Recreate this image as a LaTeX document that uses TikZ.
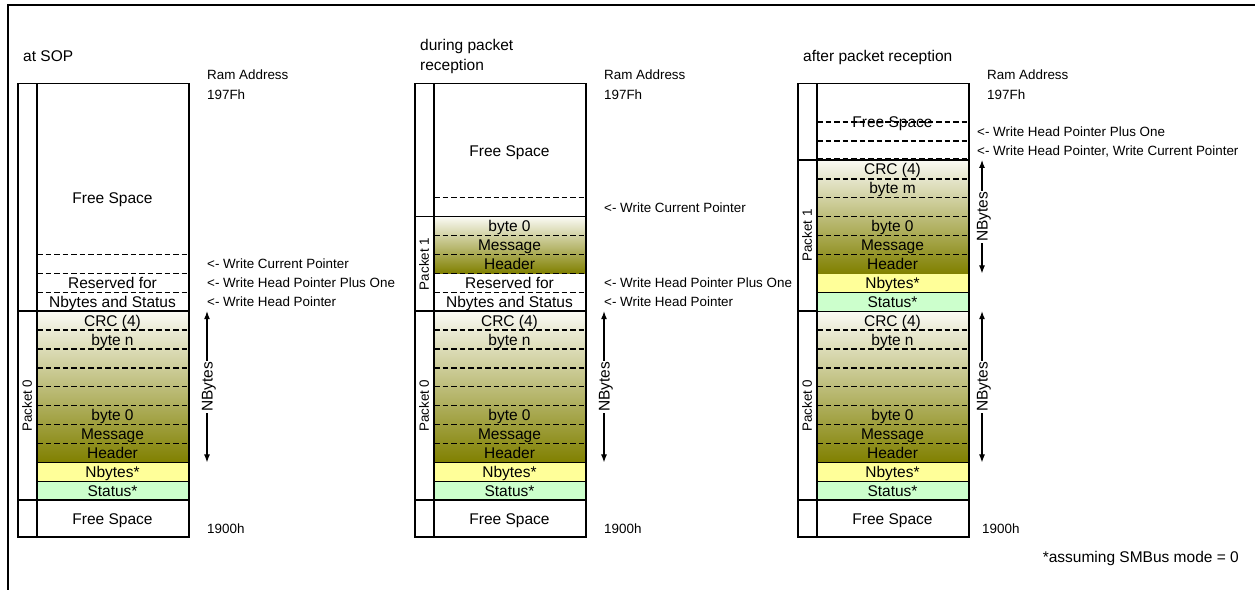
\documentclass[tikz,border=0pt]{standalone}
\usepackage{fontspec}
\setmainfont{Liberation Sans}
\usetikzlibrary{arrows.meta}
\definecolor{olivec}{RGB}{128,128,0}
\definecolor{gtop}{RGB}{250,250,244}
\definecolor{nbyel}{RGB}{255,255,153}
\definecolor{stgreen}{RGB}{204,255,204}
\newcommand\bfs{\fontsize{15.5}{20}\selectfont}
\newcommand\sfs{\fontsize{13.4}{16}\selectfont}
\tikzset{
 cell/.style={inner sep=0pt, minimum width=151pt, minimum height=18.9pt, text height=11pt, text depth=0pt, font=\bfs},
 colorcell/.style={cell, draw, line width=0.9pt},
 dline/.style={line width=1.4pt, dash pattern=on 5.5pt off 3pt},
 sline/.style={line width=1.6pt},
 ptr/.style={anchor=west, inner sep=0pt, font=\sfs, text height=9.6pt, text depth=0pt},
 plabel/.style={rotate=90, inner sep=0pt, font=\sfs, text height=9.6pt, text depth=0pt},
 nbarrow/.style={{Latex[length=8pt,width=6pt]}-{Latex[length=8pt,width=6pt]}, line width=1.1pt},
 nblabel/.style={rotate=90, fill=white, inner sep=1pt, font=\bfs, text height=11pt, text depth=0pt},
 ttl/.style={anchor=west, inner sep=0pt, font=\bfs, align=left},
 colbox/.style={draw, sline, inner sep=0pt, minimum width=171pt, minimum height=453.6pt, anchor=south west},
}
% #1 = x0, #2 = prefix, #3 = arrow x offset
\newcommand\packetzero[3]{%
 \shade[top color=gtop, bottom color=olivec] (#1+20,4) rectangle (#1+171,12);
 \node[colorcell, fill=stgreen] (#2st) at (#1+95.5,2.5) {Status*};
 \node[colorcell, fill=nbyel] (#2nb) at (#1+95.5,3.5) {Nbytes*};
 \node[cell] (#2hd) at (#1+95.5,4.5) {Header};
 \node[cell] (#2ms) at (#1+95.5,5.5) {Message};
 \node[cell] (#2bz) at (#1+95.5,6.5) {byte 0};
 \node[cell] (#2bn) at (#1+95.5,10.5) {byte n};
 \node[cell] (#2crc) at (#1+95.5,11.5) {CRC (4)};
 \foreach \r in {5,...,11} \draw[dline] (#1+20,\r) -- (#1+171,\r);
 \node[cell, minimum height=37.8pt] (#2fsb) at (#1+95.5,1) {Free Space};
 \draw[sline] (#1,2) -- (#1+171,2);
 \draw[sline] (#1,12) -- (#1+171,12);
 \node[plabel] (#2pz) at (#1+10,7) {Packet 0};
 \coordinate (#2at) at (#1+#3,12);
 \coordinate (#2ab) at (#1+#3,4);
 \draw[nbarrow] (#2ab) -- node[nblabel] (#2nbl) {NBytes} (#2at);
 \node[ptr] (#2lo) at (#1+#3,0.476) {1900h};
}
\begin{document}
\begin{tikzpicture}[x=1pt, y=18.9pt]
\useasboundingbox (0,-2.6984) rectangle (1255,28.4656);
\draw[line width=2.4pt] (1256,28.2011) -- (8,28.2011) -- (8,-2.8);

% ---------- column 1: at SOP ----------
\node[ttl, text height=11pt, text depth=0pt] (t1) at (23,25.503) {at SOP};
\node[ptr] (ra1) at (207,24.497) {Ram Address};
\node[ptr] (hi1) at (207,23.439) {197Fh};
\packetzero{17}{a}{190}
\node[cell, minimum height=226.8pt] (afs) at (112.5,18) {Free Space};
\node[cell] (anbs) at (112.5,12.5) {Nbytes and Status};
\node[cell] (ares) at (112.5,13.5) {Reserved for};
\foreach \r in {13,14,15} \draw[dline] (37,\r) -- (188,\r);
\node[colbox] (abox) at (17,0) {};
\draw[sline] (37,0) -- (37,24);
\node[ptr] (ap1) at (207,14.5) {<- Write Current Pointer};
\node[ptr] (ap2) at (207,13.5) {<- Write Head Pointer Plus One};
\node[ptr] (ap3) at (207,12.5) {<- Write Head Pointer};

% ---------- column 2: during packet reception ----------
\node[ttl] (t2) at (420,25.45) {during packet\\reception};
\node[ptr] (ra2) at (604,24.497) {Ram Address};
\node[ptr] (hi2) at (604,23.439) {197Fh};
\packetzero{414}{b}{190}
\node[cell] (bnbs) at (509.5,12.5) {Nbytes and Status};
\node[cell] (bres) at (509.5,13.5) {Reserved for};
\shade[top color=gtop, bottom color=olivec] (434,14) rectangle (585,17);
\node[cell] (bhd) at (509.5,14.5) {Header};
\node[cell] (bms) at (509.5,15.5) {Message};
\node[cell] (bbz) at (509.5,16.5) {byte 0};
\node[cell, minimum height=132.3pt] (bfs) at (509.5,20.5) {Free Space};
\foreach \r in {13,14,15,16,18} \draw[dline] (434,\r) -- (585,\r);
\draw[sline] (414,17) -- (585,17);
\node[colbox] (bbox) at (414,0) {};
\draw[sline] (434,0) -- (434,24);
\node[plabel] (bpo) at (424,14.5) {Packet 1};
\node[ptr] (bp1) at (604,17.5) {<- Write Current Pointer};
\node[ptr] (bp2) at (604,13.5) {<- Write Head Pointer Plus One};
\node[ptr] (bp3) at (604,12.5) {<- Write Head Pointer};

% ---------- column 3: after packet reception ----------
\node[ttl, text height=11pt, text depth=0pt] (t3) at (803,25.503) {after packet reception};
\node[ptr] (ra3) at (987,24.497) {Ram Address};
\node[ptr] (hi3) at (987,23.439) {197Fh};
\packetzero{797}{c}{185}
\node[colorcell, fill=stgreen] (cst1) at (892.5,12.5) {Status*};
\node[colorcell, fill=nbyel] (cnb1) at (892.5,13.5) {Nbytes*};
\shade[top color=gtop, bottom color=olivec] (817,14) rectangle (968,20);
\node[cell] (chd1) at (892.5,14.5) {Header};
\node[cell] (cms1) at (892.5,15.5) {Message};
\node[cell] (cbz1) at (892.5,16.5) {byte 0};
\node[cell] (cbm) at (892.5,18.5) {byte m};
\node[cell] (ccrc1) at (892.5,19.5) {CRC (4)};
\node[cell, minimum height=75.6pt] (cfs) at (892.5,22) {Free Space};
\foreach \r in {15,16,17,18,19,20.06,21,22} \draw[dline] (817,\r) -- (968,\r);
\draw[sline] (797,20) -- (968,20);
\node[colbox] (cbox) at (797,0) {};
\draw[sline] (817,0) -- (817,24);
\node[plabel] (cpo) at (807,16) {Packet 1};
\coordinate (cat1) at (982,20);
\coordinate (cab1) at (982,14);
\draw[nbarrow] (cab1) -- node[nblabel] (cnbl1) {NBytes} (cat1);
\node[ptr] (cp1) at (977,21.5) {<- Write Head Pointer Plus One};
\node[ptr] (cp2) at (977,20.5) {<- Write Head Pointer, Write Current Pointer};

\node[anchor=east, inner sep=0pt, font=\bfs, text height=11pt, text depth=0pt] (note) at (1239,-1.005) {*assuming SMBus mode = 0};
\end{tikzpicture}
\end{document}
